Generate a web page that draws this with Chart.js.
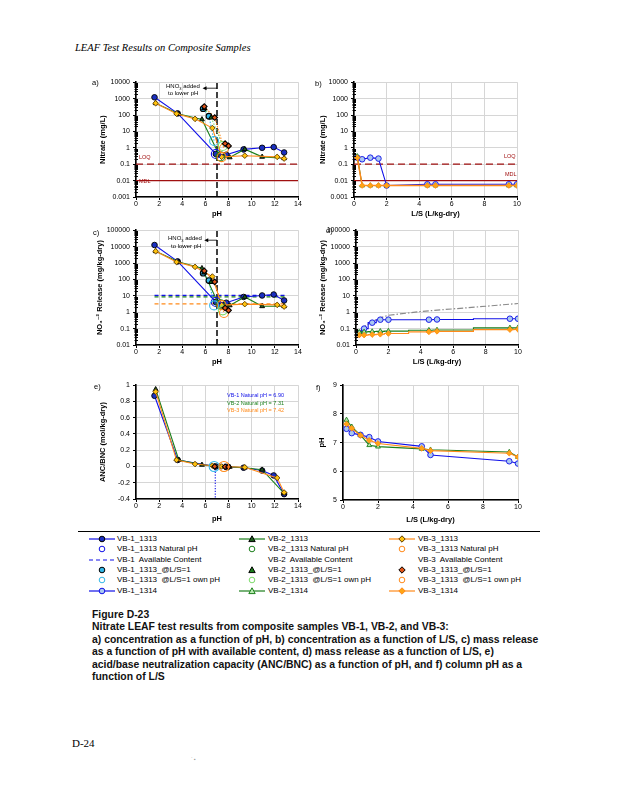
<!DOCTYPE html>
<html><head><meta charset="utf-8">
<script src="https://cdn.jsdelivr.net/npm/chart.js@4.4.1/dist/chart.umd.min.js"></script>
<style>
body{margin:0;background:#fff;width:618px;height:800px;position:relative;overflow:hidden;font-family:"Liberation Sans",Arial,"DejaVu Sans",sans-serif;}
canvas{position:absolute;}
.t{position:absolute;white-space:nowrap;line-height:1;}
.cap{position:absolute;left:92px;white-space:nowrap;font-weight:bold;font-size:10.4px;line-height:1;color:#111;}
</style></head><body>
<script>
// ---------------- DATA ----------------
// a) concentration vs pH (mg/L)
const A_VB1_PH = [1.6, 3.6, 6.9, 7.8, 9.3, 10.9, 11.9, 12.8];
const A_VB1    = [1200, 125, 0.42, 0.38, 0.8, 1.0, 1.1, 0.52];
const A_VB2_PH = [1.7, 3.7, 5.7, 7.2, 8.1, 9.4, 10.9, 12.8];
const A_VB2    = [520, 115, 54, 0.35, 0.26, 0.82, 0.28, 0.23];
const A_VB3_PH = [1.7, 3.5, 5.1, 6.6, 7.4, 9.4, 12.2, 12.8];
const A_VB3    = [520, 120, 58, 16, 0.28, 0.33, 0.28, 0.22];
const NAT_PH   = [6.9, 7.3, 7.4];          // natural pH VB-1, VB-2, VB-3
const A_NAT    = [0.42, 0.3, 0.27];
const OWN_PH   = [6.75, 7.5, 7.6];         // @L/S=1 own pH
const OWN_CONC = [2.6, 1.3, 0.9];
const LS1_VB1_PH = [5.8, 6.3];  const LS1_VB1 = [240, 85];
const LS1_VB2_PH = [5.9, 6.5];  const LS1_VB2 = [260, 70];
const LS1_VB3_PH = [5.9, 6.8, 7.7, 8.0]; const LS1_VB3 = [330, 70, 1.8, 1.3];
const LOQ = 0.1, MDL = 0.01, HNO3_PH = 7.0;

// b) concentration vs L/S (mg/L)
const LS_1314 = [0.2, 0.5, 1, 1.5, 2, 4.5, 5, 9.5, 10];
const B_VB1 = [0.25, 0.2, 0.25, 0.22, 0.005, 0.006, 0.006, 0.006, 0.006];
const B_VB2 = [0.3, 0.005, 0.005, 0.005, 0.005, 0.005, 0.005, 0.005, 0.005];
const B_VB3 = [0.25, 0.005, 0.005, 0.005, 0.005, 0.005, 0.005, 0.005, 0.005];

// c) mass release vs pH (mg/kg-dry)
const C_VB1 = [12500, 1250, 4.2, 3.8, 8.5, 10.5, 12, 5.2];
const C_VB2 = [5200, 1150, 480, 2.5, 2.6, 8.5, 2.3, 2.3];
const C_VB3 = [5200, 1150, 580, 150, 2.7, 3.1, 2.8, 2.2];
const C_NAT = [4.2, 3.0, 2.7];
const C_AVAIL = [10.5, 8.6, 3.2];           // available content VB-1, VB-2, VB-3
const AVAIL_PH = [1.6, 12.9];

// d) cumulative release vs L/S (mg/kg-dry)
const D_VB1 = [0.05, 0.1, 0.23, 0.35, 0.35, 0.35, 0.36, 0.4, 0.4];
const D_VB2 = [0.06, 0.063, 0.066, 0.068, 0.07, 0.08, 0.082, 0.11, 0.113];
const D_VB3 = [0.04, 0.04, 0.043, 0.045, 0.05, 0.063, 0.068, 0.087, 0.09];
const D_REF_LS = [0.2, 0.5, 1, 1.5, 2, 4, 6, 8, 10];
const D_REF    = [0.06, 0.13, 0.27, 0.45, 0.65, 1.1, 1.6, 2.3, 3.4];

// e) ANC/BNC vs pH (mol/kg-dry)
const E_VB1 = [0.87, 0.08, 0.0, -0.005, -0.015, -0.05, -0.11, -0.34];
const E_VB2 = [0.95, 0.08, 0.02, 0.0, -0.005, -0.015, -0.04, -0.33];
const E_VB3 = [0.92, 0.08, 0.03, 0.01, 0.0, -0.01, -0.14, -0.32];
const E_OWN_PH = [6.75, 7.6]; const E_OWN = [0.0, 0.0];
const E_LS1_PH = [6.8, 7.7, 8.0]; const E_LS1 = [0.0, -0.003, -0.005];
const E_NATLINE = [0.0, -0.4];
const E_NAT_TXT = ["VB-1 Natural pH = 6.90", "VB-2 Natural pH = 7.31", "VB-3 Natural pH = 7.42"];

// f) column pH vs L/S
const F_VB1 = [7.48, 7.33, 7.27, 7.19, 7.04, 6.87, 6.57, 6.35, 6.27];
const F_VB2 = [7.79, 7.55, 7.26, 6.91, 6.86, 6.78, 6.75, 6.67, 6.5];
const F_VB3 = [7.65, 7.5, 7.25, 7.08, 6.97, 6.8, 6.72, 6.63, 6.5];

// tick labels
const LOG_TICKS_A = [0.001, 0.01, 0.1, 1, 10, 100, 1000, 10000];
const LOG_TICKS_C = [0.01, 0.1, 1, 10, 100, 1000, 10000, 100000];
const E_TICKS = [-0.4, -0.2, 0, 0.2, 0.4, 0.6, 0.8, 1];
const F_TICKS = [5, 6, 7, 8, 9];

// ---------------- STYLE ----------------
const FONT = "'Liberation Sans', Arial, 'DejaVu Sans', sans-serif";
Chart.defaults.font.family = FONT;
Chart.defaults.color = '#000';
Chart.defaults.animation = false;
const GRID = '#d6d6d6';
const BLUE='#1010e8', BLUE_F='#1a2fc0', GREEN='#1b7f1b', GREEN_F='#1d5c1d', ORANGE='#ff8a1a', ORANGE_F='#ffc20e';
const CYAN='#33b8e8', LGREEN='#7ddc6a', DORANGE='#e0561a', DRED='#a01010', LBLUE='#a9c8f0', LGREEN_F='#b7eab0';

const pts = (xs, ys) => xs.map((x, i) => ({x, y: ys[i]}));
const hline = (x0, x1, y) => [{x: x0, y}, {x: x1, y}];

function line(xs, ys, color, shape, fill, stroke, extra) {
  return Object.assign({data: pts(xs, ys), showLine: true, borderColor: color, borderWidth: 1.1,
    pointStyle: shape, pointRadius: 2.8, pointBackgroundColor: fill, pointBorderColor: stroke, pointBorderWidth: 0.9}, extra || {});
}
function marks(xs, ys, shape, fill, stroke, r, extra) {
  return Object.assign({data: pts(xs, ys), showLine: false, pointStyle: shape, pointRadius: r,
    pointBackgroundColor: fill, pointBorderColor: stroke, pointBorderWidth: 1.1}, extra || {});
}
function ring(x, y, color, r) { return marks([x], [y], 'circle', 'rgba(0,0,0,0)', color, r || 4.5); }
function plain(data, color, dash, w) {
  return {data, showLine: true, borderColor: color, borderDash: dash || [], borderWidth: w || 1.1, pointRadius: 0};
}

function logY(min, max, ticks, title) {
  return {type: 'logarithmic', min, max,
    afterBuildTicks: s => { s.ticks = ticks.map(v => ({value: v})); },
    ticks: {callback: v => String(v), font: {size: 7}, padding: 3, autoSkip: false},
    grid: {color: GRID, tickLength: 3, tickColor: '#000'},
    border: {color: '#000', width: 1.6},
    title: {display: true, text: title, font: {size: 7.5, weight: 'bold'}, padding: 0}};
}
function linY(min, max, ticks, title, fmt) {
  return {type: 'linear', min, max,
    afterBuildTicks: s => { s.ticks = ticks.map(v => ({value: v})); },
    ticks: {callback: fmt || (v => String(v)), font: {size: 7}, padding: 3, autoSkip: false},
    grid: {color: GRID, tickLength: 3, tickColor: '#000'},
    border: {color: '#000', width: 1.6},
    title: {display: true, text: title, font: {size: 7.5, weight: 'bold'}, padding: 0}};
}
function linX(min, max, step, title) {
  return {type: 'linear', min, max,
    ticks: {stepSize: step, font: {size: 7}, padding: 0, autoSkip: false, maxRotation: 0},
    grid: {color: GRID, tickLength: 3, tickColor: '#000'},
    border: {color: '#000', width: 1.4},
    title: {display: true, text: title, font: {size: 7.5, weight: 'bold'}, padding: 0}};
}

const minorTicks = {id: 'minor', afterDraw(ch) {
  const y = ch.scales.y; if (y.type !== 'logarithmic') return;
  const ctx = ch.ctx, L = ch.chartArea.left;
  ctx.save(); ctx.strokeStyle = '#000'; ctx.lineWidth = 1;
  for (let e = Math.round(Math.log10(y.min)); e < Math.round(Math.log10(y.max)); e++) {
    for (let k = 2; k < 10; k++) {
      const py = Math.round(y.getPixelForValue(k * Math.pow(10, e))) + 0.5;
      ctx.beginPath(); ctx.moveTo(L - 1.5, py); ctx.lineTo(L + 2, py); ctx.stroke();
    }
  }
  ctx.restore();
}};
function arrowPlugin(x0, x1, dy) {
  return {id: 'arr', afterDatasetsDraw(ch) {
    const xs = ch.scales.x, ctx = ch.ctx, y = ch.chartArea.top + dy;
    const p0 = xs.getPixelForValue(x0), p1 = xs.getPixelForValue(x1);
    ctx.save(); ctx.strokeStyle = '#000'; ctx.fillStyle = '#000'; ctx.lineWidth = 0.8;
    ctx.beginPath(); ctx.moveTo(p0, y); ctx.lineTo(p1 + 3, y); ctx.stroke();
    ctx.beginPath(); ctx.moveTo(p1, y); ctx.lineTo(p1 + 4, y - 2); ctx.lineTo(p1 + 4, y + 2); ctx.closePath(); ctx.fill();
    ctx.restore();
  }};
}

function makePanel(plotL, plotT, plotW, plotH, yW, xH, xOpt, yOpt, datasets, plugins) {
  const padT = 6, padR = 8;
  const c = document.createElement('canvas');
  const W = yW + plotW + padR, H = padT + plotH + xH;
  c.width = W; c.height = H;
  c.style.left = (plotL - yW) + 'px'; c.style.top = (plotT - padT) + 'px';
  c.style.width = W + 'px'; c.style.height = H + 'px';
  document.body.appendChild(c);
  datasets.forEach((d, i) => { if (d.order === undefined) d.order = -i; });
  xOpt.afterFit = s => { s.height = xH; };
  yOpt.afterFit = s => { s.width = yW; };
  new Chart(c, {type: 'scatter', data: {datasets},
    options: {responsive: false, devicePixelRatio: 1, animation: false,
      layout: {padding: {top: padT, right: padR, left: 0, bottom: 0}},
      plugins: {legend: {display: false}, tooltip: {enabled: false}},
      scales: {x: xOpt, y: yOpt}},
    plugins: [minorTicks].concat(plugins || [])});
}

function txt(s, x, y, size, color, extra) {
  const d = document.createElement('div'); d.className = 't';
  d.style.left = x + 'px'; d.style.top = (y - size / 2) + 'px';
  d.style.fontSize = size + 'px'; d.style.color = color || '#000';
  if (extra) Object.assign(d.style, extra);
  d.innerHTML = s; document.body.appendChild(d); return d;
}

// ---------------- PANEL a ----------------
makePanel(136, 81, 162, 116, 38, 21, linX(0, 14, 2, 'pH'), logY(0.001, 10000, LOG_TICKS_A, 'Nitrate (mg/L)'), [
  plain(hline(0, 14, LOQ), DRED, [7, 4], 1.3),
  plain(hline(0, 14, MDL), DRED, [], 1.3),
  plain([{x: HNO3_PH, y: 0.001}, {x: HNO3_PH, y: 10000}], '#000', [6, 3], 1.5),
  plain(pts(LS1_VB1_PH.concat([OWN_PH[0]]), LS1_VB1.concat([OWN_CONC[0]])), CYAN, [1.5, 1.5], 1.1),
  plain(pts(LS1_VB2_PH.concat([OWN_PH[1]]), LS1_VB2.concat([OWN_CONC[1]])), LGREEN, [1.5, 1.5], 1.1),
  plain(pts(LS1_VB3_PH.slice(0, 2).concat([OWN_PH[2]]), LS1_VB3.slice(0, 2).concat([OWN_CONC[2]])), ORANGE, [1.5, 1.5], 1.1),
  line(A_VB1_PH, A_VB1, BLUE, 'circle', BLUE_F, '#000'),
  line(A_VB2_PH, A_VB2, GREEN, 'triangle', GREEN_F, '#000'),
  line(A_VB3_PH, A_VB3, ORANGE, 'rectRot', ORANGE_F, '#5a3a00'),
  ring(NAT_PH[0], A_NAT[0], BLUE), ring(NAT_PH[1], A_NAT[1], GREEN), ring(NAT_PH[2], A_NAT[2], ORANGE),
  ring(OWN_PH[0], OWN_CONC[0], CYAN), ring(OWN_PH[1], OWN_CONC[1], LGREEN), ring(OWN_PH[2], OWN_CONC[2], ORANGE),
  marks(LS1_VB1_PH, LS1_VB1, 'circle', CYAN, '#000', 2.8),
  marks(LS1_VB2_PH, LS1_VB2, 'triangle', GREEN, '#000', 2.8),
  marks(LS1_VB3_PH, LS1_VB3, 'rectRot', DORANGE, '#000', 2.8),
], [arrowPlugin(HNO3_PH, 5.75, 6)]);

// ---------------- PANEL b ----------------
makePanel(354, 81, 163, 116, 36, 21, linX(0, 10, 2, 'L/S (L/kg-dry)'), logY(0.001, 10000, LOG_TICKS_A, 'Nitrate (mg/L)'), [
  plain(hline(0, 10, LOQ), DRED, [7, 4], 1.3),
  plain(hline(0, 10, MDL), DRED, [], 1.3),
  line(LS_1314, B_VB1, BLUE, 'circle', LBLUE, BLUE),
  line(LS_1314, B_VB2, GREEN, 'triangle', LGREEN_F, GREEN),
  line(LS_1314, B_VB3, ORANGE, 'rectRot', '#ffa514', ORANGE, {borderWidth: 1.5}),
]);

// ---------------- PANEL c ----------------
makePanel(136, 229, 162, 116, 41, 21, linX(0, 14, 2, 'pH'), logY(0.01, 100000, LOG_TICKS_C, 'NO\u2083\u207B\u00B2 Release (mg/kg-dry)'), [
  plain([{x: HNO3_PH, y: 0.01}, {x: HNO3_PH, y: 100000}], '#000', [6, 3], 1.5),
  plain(hline(AVAIL_PH[0], AVAIL_PH[1], C_AVAIL[0]), BLUE, [4, 3], 1.3),
  plain(hline(AVAIL_PH[0], AVAIL_PH[1], C_AVAIL[1]), GREEN, [4, 3], 1.3),
  plain(hline(AVAIL_PH[0], AVAIL_PH[1], C_AVAIL[2]), ORANGE, [4, 3], 1.3),
  plain(pts(LS1_VB1_PH.concat([OWN_PH[0]]), LS1_VB1.concat([OWN_CONC[0]])), CYAN, [1.5, 1.5], 1.1),
  plain(pts(LS1_VB3_PH.slice(0, 2).concat([OWN_PH[2]]), LS1_VB3.slice(0, 2).concat([OWN_CONC[2]])), ORANGE, [1.5, 1.5], 1.1),
  line(A_VB1_PH, C_VB1, BLUE, 'circle', BLUE_F, '#000'),
  line(A_VB2_PH, C_VB2, GREEN, 'triangle', GREEN_F, '#000'),
  line(A_VB3_PH, C_VB3, ORANGE, 'rectRot', ORANGE_F, '#5a3a00'),
  ring(NAT_PH[0], C_NAT[0], BLUE), ring(NAT_PH[1], C_NAT[1], GREEN), ring(NAT_PH[2], C_NAT[2], ORANGE),
  ring(OWN_PH[0], OWN_CONC[0], CYAN), ring(OWN_PH[1], OWN_CONC[1], LGREEN), ring(OWN_PH[2], OWN_CONC[2], ORANGE),
  marks(LS1_VB1_PH, LS1_VB1, 'circle', CYAN, '#000', 2.8),
  marks(LS1_VB2_PH, LS1_VB2, 'triangle', GREEN, '#000', 2.8),
  marks(LS1_VB3_PH, LS1_VB3, 'rectRot', DORANGE, '#000', 2.8),
], [arrowPlugin(HNO3_PH, 5.9, 10)]);

// ---------------- PANEL d ----------------
makePanel(356, 229, 162, 116, 38, 21, linX(0, 10, 2, 'L/S (L/kg-dry)'), logY(0.01, 100000, LOG_TICKS_C, 'NO\u2083\u207B\u00B2 Release (mg/kg-dry)'), [
  plain(pts(D_REF_LS, D_REF), '#8a8a8a', [6, 2, 1.5, 2], 1.2),
  line(LS_1314, D_VB1, BLUE, 'circle', LBLUE, BLUE, {stepped: 'middle'}),
  line(LS_1314, D_VB2, GREEN, 'triangle', LGREEN_F, GREEN, {stepped: 'middle'}),
  line(LS_1314, D_VB3, ORANGE, 'rectRot', '#ffa514', ORANGE, {stepped: 'middle'}),
]);

// ---------------- PANEL e ----------------
makePanel(136, 384, 162, 115, 38, 24, linX(0, 14, 2, 'pH'), linY(-0.4, 1, E_TICKS, 'ANC/BNC (mol/kg-dry)', v => String(+v.toFixed(1))), [
  plain([{x: NAT_PH[0] - 0.05, y: E_NATLINE[0]}, {x: NAT_PH[0] - 0.05, y: E_NATLINE[1]}], BLUE, [1.2, 1.5], 1.1),
  line(A_VB1_PH, E_VB1, BLUE, 'circle', BLUE_F, '#000'),
  line(A_VB2_PH, E_VB2, GREEN, 'triangle', GREEN_F, '#000'),
  line(A_VB3_PH, E_VB3, ORANGE, 'rectRot', ORANGE_F, '#5a3a00'),
  marks(E_LS1_PH, E_LS1, 'rectRot', DORANGE, '#000', 2.8),
  ring(E_OWN_PH[0], E_OWN[0], CYAN, 5), ring(E_OWN_PH[1], E_OWN[1], ORANGE, 5),
]);

// ---------------- PANEL f ----------------
makePanel(343, 384, 175, 116, 26, 24, linX(0, 10, 2, 'L/S (L/kg-dry)'), linY(5, 9, F_TICKS, 'pH'), [
  line(LS_1314, F_VB1, BLUE, 'circle', LBLUE, BLUE),
  line(LS_1314, F_VB2, GREEN, 'triangle', LGREEN_F, GREEN),
  line(LS_1314, F_VB3, ORANGE, 'rectRot', '#ffa514', ORANGE),
]);

// ---------------- TEXT ----------------
txt('LEAF Test Results on Composite Samples', 75, 48, 10.5, '#000', {fontFamily: "'Liberation Serif','Times New Roman',serif", fontStyle: 'italic'});
txt('a)', 92, 83, 7.5); txt('b)', 315, 84, 7.5); txt('c)', 93, 233, 7.5); txt('d)', 326, 231, 7.5); txt('e)', 94, 387, 7.5); txt('f)', 316, 388, 7.5);
txt('HNO<sub style="font-size:4px">3</sub> added', 166, 86, 6);
txt('to lower pH', 168, 93, 6);
txt('HNO<sub style="font-size:4px">3</sub> added', 168, 238, 6);
txt('to lower pH', 171, 246, 6);
txt('LOQ', 139, 158, 5.5, DRED); txt('MDL', 139, 182, 5.5, DRED);
txt('LOQ', 504, 157, 5.5, DRED); txt('MDL', 505, 175, 5.5, DRED);
txt(E_NAT_TXT[0], 227, 396, 5.5, BLUE); txt(E_NAT_TXT[1], 227, 403.5, 5.5, GREEN); txt(E_NAT_TXT[2], 227, 411, 5.5, ORANGE);

// legend
const hr = document.createElement('div');
Object.assign(hr.style, {position: 'absolute', left: '78px', top: '531px', width: '462px', height: '1px', background: '#000'});
document.body.appendChild(hr);
function sym(x, y, o) {
  let s = `<svg width="28" height="10" style="position:absolute;left:${x}px;top:${y - 5}px" xmlns="http://www.w3.org/2000/svg">`;
  if (o.line) s += `<line x1="1" y1="5" x2="27" y2="5" stroke="${o.line}" stroke-width="1.2" ${o.dash ? 'stroke-dasharray="' + o.dash + '"' : ''}/>`;
  if (o.shape === 'circle') s += `<circle cx="14" cy="5" r="2.8" fill="${o.fill}" stroke="${o.stroke}" stroke-width="1"/>`;
  if (o.shape === 'tri') s += `<polygon points="14,1.8 17.2,7.6 10.8,7.6" fill="${o.fill}" stroke="${o.stroke}" stroke-width="1"/>`;
  if (o.shape === 'dia') s += `<polygon points="14,1.8 17.2,5 14,8.2 10.8,5" fill="${o.fill}" stroke="${o.stroke}" stroke-width="1"/>`;
  s += '</svg>';
  const d = document.createElement('div'); d.innerHTML = s; document.body.appendChild(d);
}
const LEG_ROWS = [539, 549.3, 559.7, 570, 580.3, 590.7];
const LEG_COLS = [{sx: 88, tx: 117}, {sx: 238, tx: 268}, {sx: 388, tx: 418}];
const LEGEND = [
  [['VB-1_1313', {line: BLUE, shape: 'circle', fill: BLUE_F, stroke: '#000'}],
   ['VB-1_1313 Natural pH', {shape: 'circle', fill: 'none', stroke: BLUE}],
   ['VB-1  Available Content', {line: BLUE, dash: '4,3'}],
   ['VB-1_1313_@L/S=1', {shape: 'circle', fill: CYAN, stroke: '#000'}],
   ['VB-1_1313  @L/S=1 own pH', {shape: 'circle', fill: 'none', stroke: CYAN}],
   ['VB-1_1314', {line: BLUE, shape: 'circle', fill: LBLUE, stroke: BLUE}]],
  [['VB-2_1313', {line: GREEN, shape: 'tri', fill: GREEN_F, stroke: '#000'}],
   ['VB-2_1313 Natural pH', {shape: 'circle', fill: 'none', stroke: GREEN}],
   ['VB-2  Available Content', {}],
   ['VB-2_1313_@L/S=1', {shape: 'tri', fill: GREEN, stroke: '#000'}],
   ['VB-2_1313  @L/S=1 own pH', {shape: 'circle', fill: 'none', stroke: LGREEN}],
   ['VB-2_1314', {line: GREEN, shape: 'tri', fill: LGREEN_F, stroke: GREEN}]],
  [['VB-3_1313', {line: ORANGE, shape: 'dia', fill: ORANGE_F, stroke: '#5a3a00'}],
   ['VB-3_1313 Natural pH', {shape: 'circle', fill: 'none', stroke: ORANGE}],
   ['VB-3  Available Content', {}],
   ['VB-3_1313_@L/S=1', {shape: 'dia', fill: DORANGE, stroke: '#000'}],
   ['VB-3_1313  @L/S=1 own pH', {shape: 'circle', fill: 'none', stroke: ORANGE}],
   ['VB-3_1314', {line: ORANGE, shape: 'dia', fill: '#ffa514', stroke: ORANGE}]],
];
LEGEND.forEach((col, ci) => col.forEach((it, ri) => {
  sym(LEG_COLS[ci].sx, LEG_ROWS[ri], it[1]);
  txt(it[0].replace(/  /g, '&nbsp; '), LEG_COLS[ci].tx, LEG_ROWS[ri], 8, '#000');
}));

// caption
const CAPTION = [
  'Figure D-23',
  'Nitrate LEAF test results from composite samples VB-1, VB-2, and VB-3:',
  'a) concentration as a function of pH, b) concentration as a function of L/S, c) mass release',
  'as a function of pH with available content, d) mass release as a function of L/S, e)',
  'acid/base neutralization capacity (ANC/BNC) as a function of pH, and f) column pH as a',
  'function of L/S'];
CAPTION.forEach((s, i) => {
  const d = document.createElement('div'); d.className = 'cap';
  d.style.top = (609.5 + i * 12.55) + 'px'; d.textContent = s; document.body.appendChild(d);
});
txt('D-24', 72, 743, 11, '#000', {fontFamily: "'Liberation Serif','Times New Roman',serif"});
txt('\u02C8 \u25AA', 191, 759, 5, '#999');
</script>
</body></html>
